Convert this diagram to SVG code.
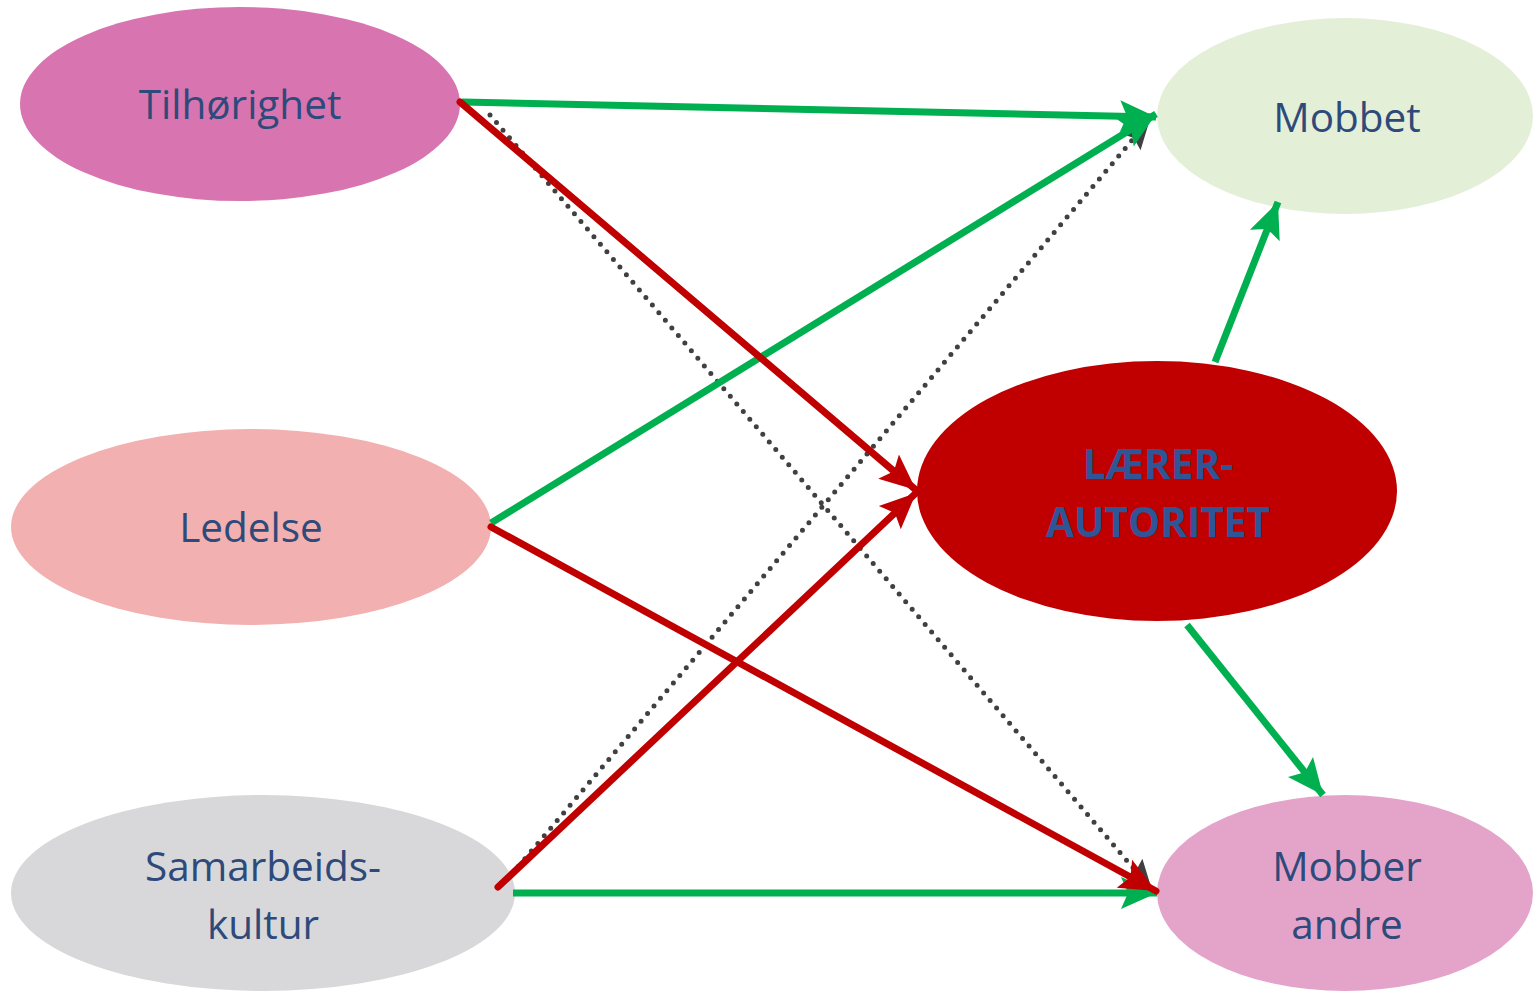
<svg xmlns="http://www.w3.org/2000/svg" width="1533" height="991" viewBox="0 0 1533 991">
<style>
.lbl{font-family:"Open Sans","Liberation Sans",sans-serif;font-size:40.5px;fill:#2E4A7A;text-anchor:middle}
.bold{font-family:"Open Sans","Liberation Sans",sans-serif;font-size:40.5px;font-weight:bold;fill:#2F5597;text-anchor:middle}
.g{stroke:#00B050;stroke-width:7;fill:none;stroke-linecap:butt}
.r{stroke:#C00000;stroke-width:7;fill:none;stroke-linecap:round}
.d{stroke:#404040;stroke-width:5;fill:none;stroke-dasharray:0 10;stroke-linecap:round}
</style>
<defs>
<marker id="ag" markerUnits="userSpaceOnUse" markerWidth="40" markerHeight="36" refX="36" refY="18" orient="auto"><path d="M0,2 L36,18 L0,34 L7,18 Z" fill="#00B050"/></marker>
<marker id="ar" markerUnits="userSpaceOnUse" markerWidth="40" markerHeight="36" refX="36" refY="18" orient="auto"><path d="M0,2 L36,18 L0,34 L7,18 Z" fill="#C00000"/></marker>
<marker id="ad" markerUnits="userSpaceOnUse" markerWidth="34" markerHeight="30" refX="30" refY="15" orient="auto"><path d="M0,2 L30,15 L0,28 L5,15 Z" fill="#404040"/></marker>
</defs>
<g id="n-tilhorighet"><ellipse cx="240" cy="104" rx="220" ry="97" fill="#D875B0"/><text class="lbl" x="240" y="119">Tilhørighet</text></g>
<g id="n-ledelse"><ellipse cx="251" cy="527" rx="240" ry="98" fill="#F2B0B0"/><text class="lbl" x="251" y="542">Ledelse</text></g>
<g id="n-samarbeid"><ellipse cx="263" cy="893" rx="252" ry="98" fill="#D8D8DA"/><text class="lbl" x="263" y="881">Samarbeids-</text><text class="lbl" x="263" y="939">kultur</text></g>
<g id="n-mobbet"><ellipse cx="1345" cy="116" rx="188" ry="98" fill="#E4EFD8"/><text class="lbl" x="1347" y="132">Mobbet</text></g>
<g id="n-mobberandre"><ellipse cx="1345" cy="893" rx="188" ry="98" fill="#E4A4CA"/><text class="lbl" x="1347" y="881">Mobber</text><text class="lbl" x="1347" y="939">andre</text></g>
<g id="n-laerer"><ellipse cx="1157" cy="491" rx="240" ry="130" fill="#C00000"/><text class="bold" x="1158" y="479">LÆRER-</text><text class="bold" x="1158" y="537">AUTORITET</text></g>
<g id="connectors">
<line class="d" x1="490" y1="115" x2="1152" y2="890" marker-end="url(#ad)"/>
<line class="d" x1="512" y1="874" x2="1150" y2="119" marker-end="url(#ad)"/>
<line class="g" x1="462" y1="102" x2="1156" y2="117" marker-end="url(#ag)"/>
<line class="g" x1="491" y1="523" x2="1156" y2="114" marker-end="url(#ag)"/>
<line class="g" x1="513" y1="893" x2="1157" y2="893" marker-end="url(#ag)"/>
<line class="g" x1="1215" y1="362" x2="1278" y2="202" marker-end="url(#ag)"/>
<line class="g" x1="1187" y1="625" x2="1323" y2="795" marker-end="url(#ag)"/>
<line class="r" x1="460" y1="102" x2="916" y2="490" marker-end="url(#ar)"/>
<line class="r" x1="491" y1="527" x2="1156" y2="891" marker-end="url(#ar)"/>
<line class="r" x1="498" y1="887" x2="916" y2="493" marker-end="url(#ar)"/>
</g>
</svg>
